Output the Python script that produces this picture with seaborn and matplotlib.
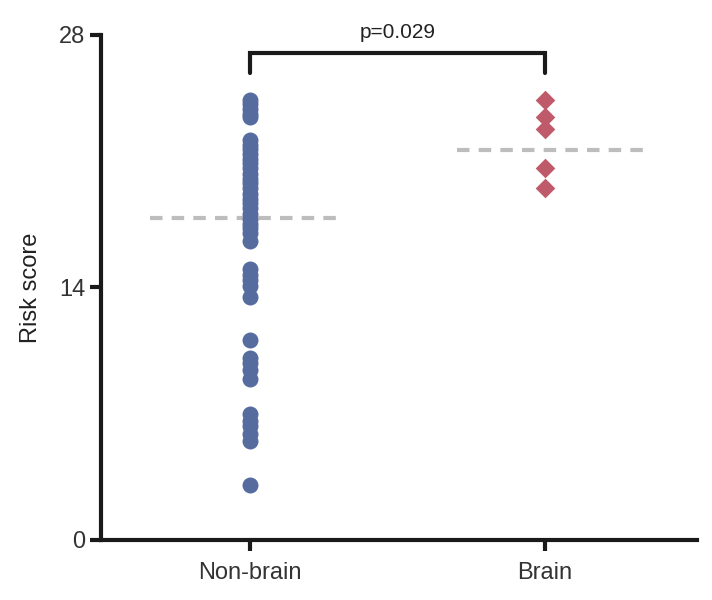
import matplotlib
matplotlib.use("Agg")
import matplotlib.pyplot as plt
import seaborn as sns
import pandas as pd
from matplotlib import font_manager

groups = ["Non-brain", "Brain"]
nonbrain_scores = [24.4, 24.2, 23.9, 23.6, 23.45,
                   22.2, 21.9, 21.7, 21.4, 21.1, 20.9, 20.6, 20.3, 20.0, 19.8,
                   19.5, 19.2, 18.9, 18.7, 18.4, 18.1, 17.8, 17.5, 17.3, 17.0, 16.6,
                   15.0, 14.7, 14.4, 14.1, 13.5,
                   11.1,
                   10.1, 9.8, 9.4, 8.9,
                   7.0, 6.6, 6.3, 5.9, 5.5,
                   3.05]
brain_scores = [24.4, 23.45, 22.8, 20.6, 19.5]
group_means = [17.85, 21.6]
y_ticks = [0, 14, 28]
p_label = "p=0.029"

sns.set_theme(style="ticks")
names = {f.name for f in font_manager.fontManager.ttflist}
fam = "Liberation Sans Narrow" if "Liberation Sans Narrow" in names else "Liberation Sans"
plt.rcParams["font.family"] = [fam, "DejaVu Sans"]

df = pd.DataFrame({
    "group": ["Non-brain"] * len(nonbrain_scores) + ["Brain"] * len(brain_scores),
    "score": nonbrain_scores + brain_scores,
})

fig = plt.figure(figsize=(7.12, 6.0), dpi=100)
ax = fig.add_axes([0.1419, 0.1, 0.979 - 0.1419, 0.9417 - 0.1])

sns.stripplot(data=df[df.group == "Non-brain"], x="group", y="score", order=groups,
              jitter=False, color="#566C9E", marker="o", s=11.5, linewidth=0, ax=ax, zorder=3)
sns.stripplot(data=df[df.group == "Brain"], x="group", y="score", order=groups,
              jitter=False, color="#BE5A69", marker="D", s=10, linewidth=0, ax=ax, zorder=3)

offsets = [(-0.34, 0.32), (-0.30, 0.355)]
for i, m in enumerate(group_means):
    lo, hi = offsets[i]
    ax.hlines(m, i + lo, i + hi, colors="#BDBDBD", linestyles=(0, (3, 2.2)),
              linewidth=3, zorder=2)

# significance bracket
ax.plot([0, 0, 1, 1], [25.9, 27.0, 27.0, 25.9], color="#1a1a1a", lw=3,
        clip_on=False, solid_joinstyle="miter", zorder=4)
ax.text(0.5, 27.6, p_label, ha="center", va="bottom", fontsize=15, color="#222222")

ax.set_ylim(0, 28)
ax.set_xlim(-0.505, 1.515)
ax.set_yticks(y_ticks)
ax.set_xlabel("")
ax.set_ylabel("Risk score", fontsize=17, color="#222222", labelpad=12)
ax.tick_params(axis="both", labelsize=17, labelcolor="#333333", length=8, width=3,
               color="#1a1a1a")
ax.tick_params(axis="x", pad=8)
for side in ["top", "right"]:
    ax.spines[side].set_visible(False)
for side in ["left", "bottom"]:
    ax.spines[side].set_linewidth(3)
    ax.spines[side].set_color("#1a1a1a")

fig.savefig("out.png", dpi=100)
